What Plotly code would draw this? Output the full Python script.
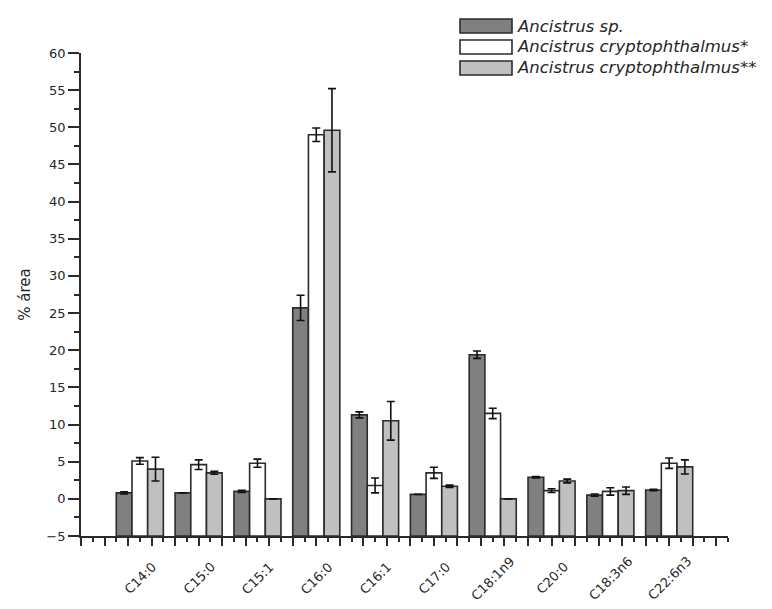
import plotly.graph_objects as go

# Fatty acid profile (% area) of three Ancistrus samples
categories = ["C14:0", "C15:0", "C15:1", "C16:0", "C16:1",
              "C17:0", "C18:1n9", "C20:0", "C18:3n6", "C22:6n3"]

sp_vals = [0.8, 0.8, 1.0, 25.7, 11.3, 0.6, 19.4, 2.9, 0.5, 1.2]
sp_err = [0.15, 0.0, 0.15, 1.7, 0.4, 0.0, 0.5, 0.1, 0.15, 0.1]

crypt1_vals = [5.1, 4.6, 4.8, 49.0, 1.8, 3.5, 11.5, 1.1, 1.0, 4.8]
crypt1_err = [0.45, 0.65, 0.55, 0.9, 1.0, 0.75, 0.7, 0.25, 0.5, 0.7]

crypt2_vals = [4.0, 3.5, 0.0, 49.6, 10.5, 1.7, 0.0, 2.4, 1.1, 4.3]
crypt2_err = [1.6, 0.2, 0.0, 5.6, 2.6, 0.15, 0.0, 0.25, 0.5, 0.95]

series_names = ["<i>Ancistrus sp.</i>",
                "<i>Ancistrus cryptophthalmus*</i>",
                "<i>Ancistrus cryptophthalmus**</i>"]
series_colors = ["#808080", "#ffffff", "#c0c0c0"]

y_min, y_max = -5, 60
x_pos = list(range(1, len(categories) + 1))

W, H = 772, 609
M_L, M_R, M_T, M_B = 81, 44, 53, 73
plot_w = W - M_L - M_R
plot_h = H - M_T - M_B


def px_x(px):
    return (px - M_L) / plot_w


def px_y(py):
    return (H - M_B - py) / plot_h


EDGE = "#2b2b2b"
TXT = "#262626"

fig = go.Figure()
series = [(sp_vals, sp_err), (crypt1_vals, crypt1_err), (crypt2_vals, crypt2_err)]
for (vals, errs), name, color in zip(series, series_names, series_colors):
    fig.add_trace(go.Bar(
        x=x_pos,
        y=[v - y_min for v in vals],
        base=y_min,
        name=name,
        marker=dict(color=color, line=dict(color=EDGE, width=1.6)),
        error_y=dict(type="data", array=errs, visible=True,
                     color="#111111", thickness=1.6, width=4),
        showlegend=False,
    ))

# rotated category labels centred under each group
annotations = []
for xi, cat in zip(x_pos, categories):
    annotations.append(dict(
        x=xi, y=px_y(578), xref="x", yref="paper",
        text=cat, showarrow=False, textangle=-45,
        xanchor="center", yanchor="middle", xshift=0,
        font=dict(family="DejaVu Sans", size=13, color=TXT),
    ))

# legend: wide swatches with italic species names
shapes = []
row_tops = [19, 40, 61]
for top, name, color in zip(row_tops, series_names, series_colors):
    shapes.append(dict(
        type="rect", xref="paper", yref="paper",
        x0=px_x(460), x1=px_x(512), y0=px_y(top + 14), y1=px_y(top),
        fillcolor=color, line=dict(color=EDGE, width=1.6),
    ))
    annotations.append(dict(
        x=px_x(515), y=px_y(top + 7), xref="paper", yref="paper",
        text=name, showarrow=False, xanchor="left", yanchor="middle",
        font=dict(family="DejaVu Sans", size=16.5, color=TXT),
    ))

fig.update_layout(
    width=W, height=H,
    margin=dict(l=M_L, r=M_R, t=M_T, b=M_B, autoexpand=False),
    paper_bgcolor="white", plot_bgcolor="white",
    barmode="group", bargap=0.2, bargroupgap=0,
    shapes=shapes, annotations=annotations,
    xaxis=dict(
        range=[0, 11], showgrid=False, zeroline=False,
        showline=True, linecolor=EDGE, linewidth=1.8,
        ticks="outside", tickmode="linear", tick0=0, dtick=0.4,
        ticklen=8, tickwidth=1.6, tickcolor=EDGE,
        showticklabels=False,
        minor=dict(ticks="outside", tick0=0, dtick=0.2, ticklen=4,
                   tickwidth=1.6, tickcolor=EDGE, showgrid=False),
    ),
    yaxis=dict(
        range=[y_min, y_max], showgrid=False, zeroline=False,
        showline=True, linecolor=EDGE, linewidth=1.8,
        ticks="outside", tickmode="linear", tick0=0, dtick=5,
        ticklen=11, tickwidth=1.6, tickcolor=EDGE,
        tickfont=dict(family="DejaVu Sans", size=13, color=TXT),
        minor=dict(ticks="outside", tick0=0, dtick=2.5, ticklen=5,
                   tickwidth=1.6, tickcolor=EDGE, showgrid=False),
        title=dict(text="% área", standoff=12,
                   font=dict(family="DejaVu Sans", size=15, color=TXT)),
    ),
)

fig.write_html("out.html")
